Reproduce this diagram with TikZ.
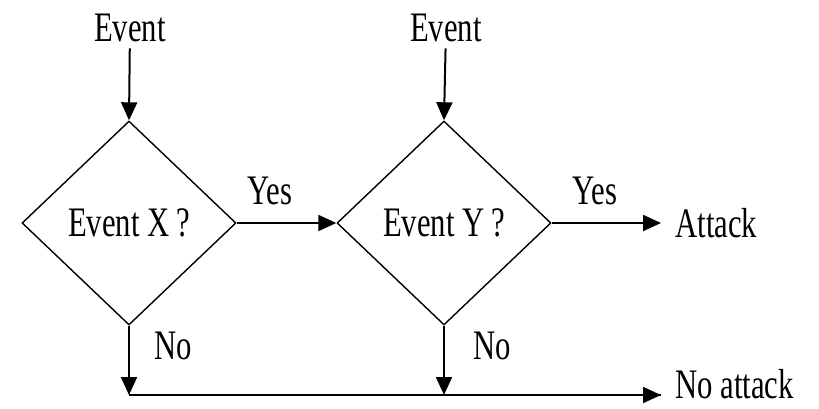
\documentclass[tikz,border=0pt]{standalone}
\usepackage{fontspec}
\setmainfont[FakeStretch=0.73]{Liberation Serif}
\usetikzlibrary{shapes.geometric,arrows.meta}
\begin{document}
\begin{tikzpicture}[x=0.5pt,y=-0.5pt,
  lbl/.style={font=\fontsize{21pt}{24pt}\selectfont, inner sep=3pt},
  decision/.style={diamond, draw, line width=0.7pt, inner sep=0pt,
    minimum width=107pt, minimum height=102pt,
    font=\fontsize{21pt}{24pt}\selectfont},
  flow/.style={line width=1pt, -{Triangle[length=9pt,width=8pt]}},
  plain/.style={line width=1pt}]
\useasboundingbox (0,0) rectangle (819,408);

% decisions
\node[decision] (d1) at (129,223) {Event X\,?};
\node[decision] (d2) at (444,223) {Event Y\,?};

% incoming events
\node[lbl] (ev1) at (130,28) {Event};
\node[lbl] (ev2) at (446,28) {Event};

% outcomes
\node[lbl, anchor=west, inner xsep=7pt] (attack) at (661,223) {Attack};
\node[lbl, anchor=west, inner xsep=7pt, inner ysep=0pt] (noattack) at (661,384) {No attack};

% branch labels
\node[lbl] (yes1) at (270,191) {Yes};
\node[lbl] (yes2) at (595,191) {Yes};
\node[lbl] (no1) at (173,346) {No};
\node[lbl] (no2) at (492,346) {No};

\coordinate (b1) at (129,395);

% connectors
\draw[flow] (ev1) -- (d1.north);
\draw[flow] (ev2) -- (d2.north);
\draw[flow] (d1.east) -- (d2.west);
\draw[flow] (d2.east) -- (attack.west);
\draw[flow] (d1.south) -- (b1);
\draw[flow] (d2.south) -- (d2.south |- b1);
\draw[plain] (b1) -- (b1 -| noattack.west);
\draw[flow] ([xshift=-1pt]b1 -| noattack.west) -- (b1 -| noattack.west);
\end{tikzpicture}
\end{document}
